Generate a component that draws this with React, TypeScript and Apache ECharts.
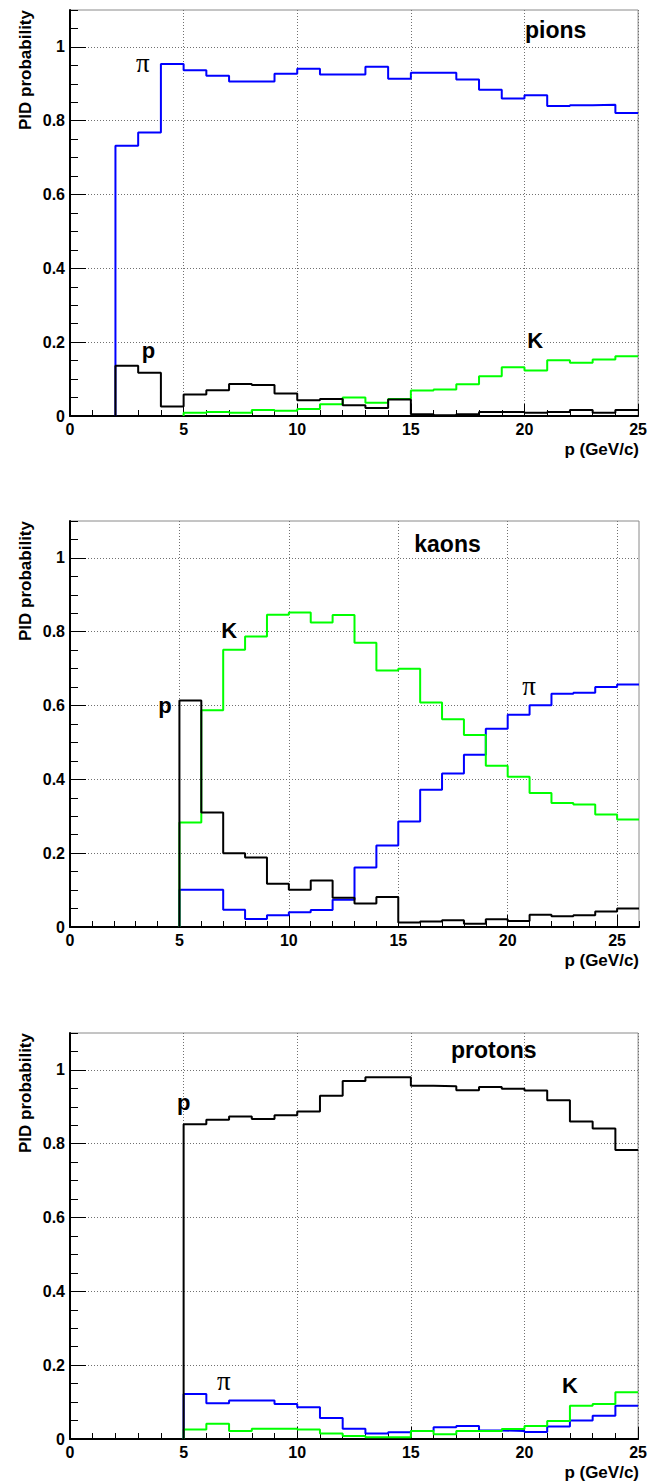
import React, { useEffect, useRef } from "react";
import * as echarts from "echarts";

// ---------- data (bin contents, 1 GeV/c bins starting at 0) ----------
const piInPions = [0, 0, 0.732, 0.768, 0.954, 0.937, 0.922, 0.906, 0.906, 0.927, 0.941, 0.925, 0.925, 0.946, 0.914, 0.93, 0.93, 0.912, 0.884, 0.86, 0.869, 0.84, 0.842, 0.843, 0.821];
const pInPions = [0, 0, 0.136, 0.117, 0.026, 0.058, 0.07, 0.087, 0.084, 0.061, 0.043, 0.046, 0.029, 0.022, 0.045, 0.005, 0.002, 0.005, 0.011, 0.011, 0.009, 0.011, 0.016, 0.009, 0.016];
const kInPions = [0, 0, 0, 0, 0, 0.009, 0.011, 0.009, 0.016, 0.014, 0.019, 0.032, 0.05, 0.036, 0.046, 0.069, 0.072, 0.086, 0.108, 0.132, 0.123, 0.151, 0.144, 0.153, 0.162];

const kInKaons = [0, 0, 0, 0, 0, 0.283, 0.587, 0.751, 0.787, 0.846, 0.852, 0.825, 0.845, 0.77, 0.695, 0.7, 0.608, 0.563, 0.52, 0.437, 0.407, 0.363, 0.336, 0.332, 0.305, 0.291];
const pInKaons = [0, 0, 0, 0, 0, 0.614, 0.31, 0.2, 0.188, 0.117, 0.101, 0.126, 0.079, 0.064, 0.081, 0.012, 0.015, 0.018, 0.009, 0.021, 0.016, 0.033, 0.029, 0.032, 0.042, 0.05];
const piInKaons = [0, 0, 0, 0, 0, 0.101, 0.101, 0.047, 0.022, 0.032, 0.04, 0.046, 0.074, 0.161, 0.221, 0.286, 0.372, 0.416, 0.467, 0.537, 0.575, 0.601, 0.632, 0.635, 0.65, 0.657];

const pInProtons = [0, 0, 0, 0, 0, 0.853, 0.865, 0.874, 0.867, 0.877, 0.887, 0.93, 0.97, 0.98, 0.98, 0.957, 0.956, 0.945, 0.954, 0.949, 0.944, 0.918, 0.86, 0.841, 0.783];
const piInProtons = [0, 0, 0, 0, 0, 0.122, 0.097, 0.104, 0.104, 0.095, 0.086, 0.057, 0.028, 0.015, 0.018, 0.022, 0.032, 0.035, 0.023, 0.022, 0.019, 0.034, 0.05, 0.063, 0.09];
const kInProtons = [0, 0, 0, 0, 0, 0.026, 0.041, 0.022, 0.028, 0.028, 0.026, 0.015, 0.008, 0.005, 0.005, 0.022, 0.013, 0.022, 0.022, 0.027, 0.035, 0.049, 0.09, 0.095, 0.127];

const yTickLabels = [0, 0.2, 0.4, 0.6, 0.8, 1];
const xTickLabels = [0, 5, 10, 15, 20, 25];
const panelTitles = ["pions", "kaons", "protons"];
const yAxisTitle = "PID probability";
const xAxisTitle = "p (GeV/c)";

// annotation texts (positions in data coordinates)
const annotations = [
  [
    { t: "pions", x: 21.37, y: 1.045, kind: "word" },
    { t: "π", x: 3.2, y: 0.957, kind: "pi" },
    { t: "p", x: 3.45, y: 0.177, kind: "letter" },
    { t: "K", x: 20.47, y: 0.205, kind: "letter" },
  ],
  [
    { t: "kaons", x: 17.25, y: 1.037, kind: "word" },
    { t: "K", x: 7.27, y: 0.803, kind: "letter" },
    { t: "p", x: 4.34, y: 0.599, kind: "letter" },
    { t: "π", x: 20.98, y: 0.654, kind: "pi" },
  ],
  [
    { t: "protons", x: 18.65, y: 1.054, kind: "word" },
    { t: "p", x: 5.0, y: 0.911, kind: "letter" },
    { t: "π", x: 6.77, y: 0.158, kind: "pi" },
    { t: "K", x: 22.0, y: 0.145, kind: "letter" },
  ],
];

const BLUE = "#0000ff";
const GREEN = "#00ff00";
const BLACK = "#000000";
const FONT = "'Liberation Sans', Arial, Helvetica, sans-serif";
const SERIF = "'Liberation Serif', 'DejaVu Serif', serif";

const panels = [
  { top: 10, xMax: 25, hists: [{ v: piInPions, c: BLUE }, { v: kInPions, c: GREEN }, { v: pInPions, c: BLACK }] },
  { top: 521, xMax: 26, hists: [{ v: piInKaons, c: BLUE }, { v: kInKaons, c: GREEN }, { v: pInKaons, c: BLACK }] },
  { top: 1033, xMax: 25, hists: [{ v: piInProtons, c: BLUE }, { v: kInProtons, c: GREEN }, { v: pInProtons, c: BLACK }] },
];

const GRID_LEFT = 70;
const GRID_W = 569;
const GRID_H = 406;

function histPoints(vals: number[]) {
  let start = vals.findIndex((v) => v !== 0);
  if (start < 0) start = 0;
  const pts: number[][] = [[start, 0]];
  for (let i = start; i < vals.length; i++) pts.push([i, vals[i]]);
  pts.push([vals.length, vals[vals.length - 1]]);
  return pts;
}

function buildOption() {
  const grid: any[] = [];
  const xAxis: any[] = [];
  const yAxis: any[] = [];
  const series: any[] = [];

  panels.forEach((p, i) => {
    grid.push({
      left: GRID_LEFT,
      top: p.top,
      width: GRID_W,
      height: GRID_H,
      show: true,
      borderColor: "#8a8a8a",
      borderWidth: 1,
      backgroundColor: "transparent",
    });
    const xMajor = xTickLabels.filter((v) => v <= p.xMax);
    xAxis.push({
      type: "value",
      gridIndex: i,
      position: "bottom",
      min: 0,
      max: p.xMax,
      interval: 5,
      axisLine: { show: true, onZero: false, lineStyle: { color: "#000", width: 2 } },
      axisTick: { show: true, inside: true, length: 12, customValues: xMajor, lineStyle: { color: "#000", width: 1 } },
      axisLabel: {
        show: true,
        margin: 5,
        color: "#000",
        fontFamily: FONT,
        fontWeight: "bold",
        fontSize: 16,
        customValues: xMajor,
        formatter: (v: number) => (xMajor.indexOf(v) >= 0 ? String(v) : ""),
      },
      splitLine: { show: true, lineStyle: { color: "#707070", width: 1, type: [1, 2] } },
    });
    xAxis.push({
      type: "value",
      gridIndex: i,
      position: "bottom",
      min: 0,
      max: p.xMax,
      interval: 1,
      axisLine: { show: false, onZero: false },
      axisTick: { show: true, inside: true, length: 6, lineStyle: { color: "#000", width: 1 } },
      axisLabel: { show: false },
      splitLine: { show: false },
    });
    yAxis.push({
      type: "value",
      gridIndex: i,
      position: "left",
      min: 0,
      max: 1.1,
      interval: 0.2,
      axisLine: { show: true, onZero: false, lineStyle: { color: "#000", width: 2 } },
      axisTick: { show: true, inside: true, length: 16, customValues: yTickLabels, lineStyle: { color: "#000", width: 1 } },
      axisLabel: {
        show: true,
        margin: 5,
        color: "#000",
        fontFamily: FONT,
        fontWeight: "bold",
        fontSize: 16,
        customValues: yTickLabels,
        formatter: (v: number) => {
          const r = Math.round(v * 10) / 10;
          return yTickLabels.indexOf(r) >= 0 && Math.abs(r - v) < 1e-6 ? String(r) : "";
        },
      },
      splitLine: { show: true, lineStyle: { color: "#707070", width: 1, type: [1, 2] } },
    });
    yAxis.push({
      type: "value",
      gridIndex: i,
      position: "left",
      min: 0,
      max: 1.1,
      interval: 0.05,
      axisLine: { show: false, onZero: false },
      axisTick: { show: true, inside: true, length: 8, lineStyle: { color: "#000", width: 1 } },
      axisLabel: { show: false },
      splitLine: { show: false },
    });

    p.hists.forEach((h) => {
      series.push({
        type: "line",
        xAxisIndex: 2 * i,
        yAxisIndex: 2 * i,
        step: "end",
        symbol: "none",
        showSymbol: false,
        silent: true,
        lineStyle: { color: h.c, width: 2 },
        data: histPoints(h.v),
      });
    });
  });

  return {
    animation: false,
    backgroundColor: "#ffffff",
    grid,
    xAxis,
    yAxis,
    series,
  };
}

function textEl(x: number, y: number, text: string, font: string, align: string, extra: any = {}) {
  return {
    type: "text",
    x,
    y,
    silent: true,
    z: 100,
    ...extra,
    style: {
      text,
      font,
      fill: "#000",
      align,
      textAlign: align,
      verticalAlign: "middle",
      textVerticalAlign: "middle",
    },
  };
}

function buildGraphics(chart: any) {
  const graphic: any[] = [];
  panels.forEach((p, i) => {
    graphic.push(textEl(25, p.top, yAxisTitle, `bold 17px ${FONT}`, "right", { rotation: Math.PI / 2 }));
    graphic.push(textEl(GRID_LEFT + GRID_W, p.top + GRID_H + 33, xAxisTitle, `bold 17px ${FONT}`, "right"));
    annotations[i].forEach((a) => {
      const pt = chart.convertToPixel({ gridIndex: i }, [a.x, a.y]);
      const font =
        a.kind === "pi" ? `normal 27px ${SERIF}` : a.kind === "word" ? `bold 23px ${FONT}` : `bold 22px ${FONT}`;
      graphic.push(textEl(pt[0], pt[1], a.t, font, "center"));
    });
  });
  return graphic;
}

export default function App() {
  const ref = useRef<HTMLDivElement>(null);
  useEffect(() => {
    if (!ref.current) return;
    const chart = echarts.init(ref.current, undefined, { renderer: "svg" });
    chart.setOption(buildOption() as any);
    chart.setOption({ graphic: buildGraphics(chart) } as any);
    return () => chart.dispose();
  }, []);
  return (
    <div
      ref={ref}
      style={{ position: "absolute", left: 0, top: 0, width: 650, height: 1484, background: "#fff" }}
      aria-label={panelTitles.join(", ")}
    />
  );
}
